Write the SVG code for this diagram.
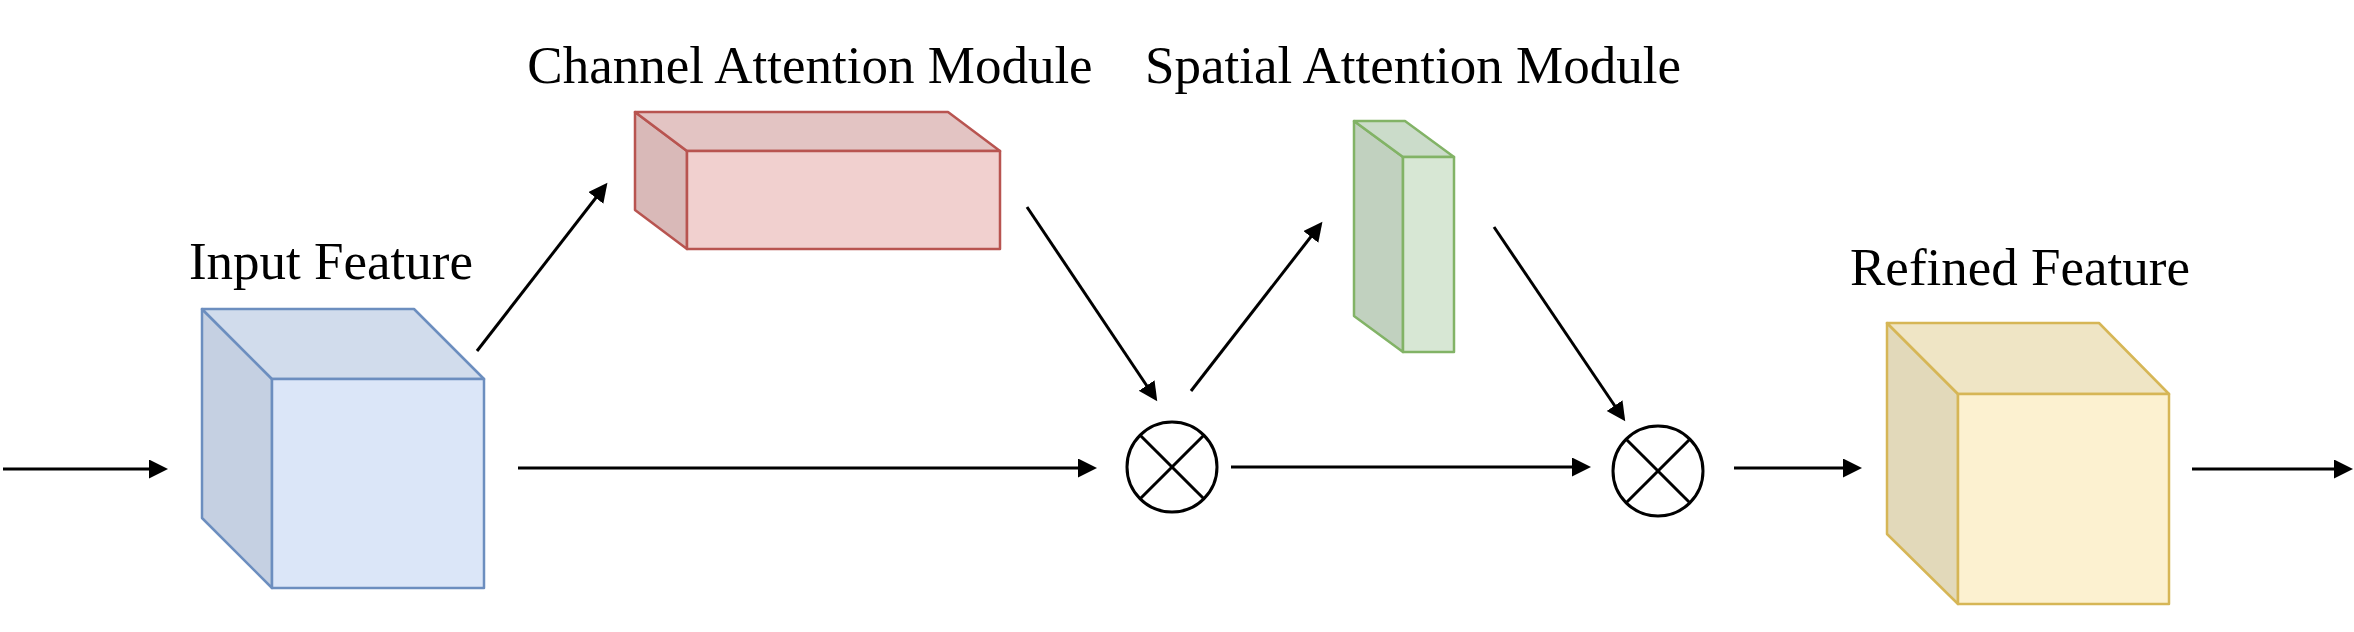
<svg xmlns="http://www.w3.org/2000/svg" width="2354" height="632" viewBox="0 0 2354 632">
  <defs>
    <marker id="arrow" markerUnits="userSpaceOnUse" markerWidth="20" markerHeight="20" refX="15" refY="9.5" orient="auto">
      <path d="M0,0 L19,9.5 L0,19 Z" fill="#000"/>
    </marker>
  </defs>
  <style>
    .lbl { font-family: "Liberation Serif", "Times New Roman", serif; font-size: 53px; fill: #000; text-anchor: middle; }
    .conn line { stroke: #000; stroke-width: 3; marker-end: url(#arrow); }
    .op circle { fill: #fff; stroke: #000; stroke-width: 3; }
    .op line { stroke: #000; stroke-width: 3; }
    .blue polygon, .blue rect { stroke: #6c8ebf; stroke-width: 2.5; stroke-linejoin: round; }
    .red polygon, .red rect { stroke: #b85450; stroke-width: 2.5; stroke-linejoin: round; }
    .green polygon, .green rect { stroke: #82b366; stroke-width: 2.5; stroke-linejoin: round; }
    .yellow polygon, .yellow rect { stroke: #d6b656; stroke-width: 2.5; stroke-linejoin: round; }
  </style>
  <rect width="2354" height="632" fill="#fff"/>

  <g id="input-feature" class="blue">
    <polygon points="202,309 272,379 272,588 202,518" fill="#c5d0e2"/>
    <polygon points="202,309 414,309 484,379 272,379" fill="#d1dcec"/>
    <rect x="272" y="379" width="212" height="209" fill="#dbe6f8"/>
    <text class="lbl" x="331" y="279">Input Feature</text>
  </g>

  <g id="channel-attention" class="red">
    <polygon points="635,112 687,151 687,249 635,210" fill="#d9b9b8"/>
    <polygon points="635,112 948,112 1000,151 687,151" fill="#e3c4c3"/>
    <rect x="687" y="151" width="313" height="98" fill="#f1d0cf"/>
    <text class="lbl" x="810" y="83">Channel Attention Module</text>
  </g>

  <g id="spatial-attention" class="green">
    <polygon points="1354,121 1403,157 1403,352 1354,316" fill="#c1d1bf"/>
    <polygon points="1354,121 1405,121 1454,157 1403,157" fill="#cbdcca"/>
    <rect x="1403" y="157" width="51" height="195" fill="#d7e7d4"/>
    <text class="lbl" x="1413" y="83">Spatial Attention Module</text>
  </g>

  <g id="refined-feature" class="yellow">
    <polygon points="1887,323 1958,394 1958,604 1887,534" fill="#e2d9ba"/>
    <polygon points="1887,323 2099,323 2169,394 1958,394" fill="#efe5c5"/>
    <rect x="1958" y="394" width="211" height="210" fill="#fcf1d0"/>
    <text class="lbl" x="2020" y="285">Refined Feature</text>
  </g>

  <g id="mult1" class="op">
    <circle cx="1172" cy="467" r="45"/>
    <line x1="1140.2" y1="435.2" x2="1203.8" y2="498.8"/>
    <line x1="1140.2" y1="498.8" x2="1203.8" y2="435.2"/>
  </g>

  <g id="mult2" class="op">
    <circle cx="1658" cy="471" r="45"/>
    <line x1="1626.2" y1="439.2" x2="1689.8" y2="502.8"/>
    <line x1="1626.2" y1="502.8" x2="1689.8" y2="439.2"/>
  </g>

  <g id="connectors" class="conn">
    <line x1="3" y1="469" x2="164" y2="469"/>
    <line x1="477" y1="351" x2="605" y2="186"/>
    <line x1="518" y1="468" x2="1093" y2="468"/>
    <line x1="1027" y1="207" x2="1155" y2="398"/>
    <line x1="1191" y1="391" x2="1320" y2="225"/>
    <line x1="1231" y1="467" x2="1587" y2="467"/>
    <line x1="1494" y1="227" x2="1623" y2="418"/>
    <line x1="1734" y1="468" x2="1858" y2="468"/>
    <line x1="2192" y1="469" x2="2349" y2="469"/>
  </g>
</svg>
